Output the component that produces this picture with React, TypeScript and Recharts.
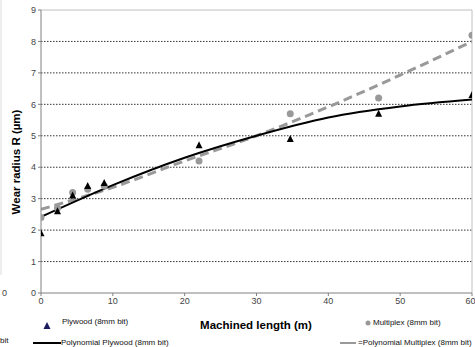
import React from 'react';
import { ComposedChart, Line, Scatter, XAxis, YAxis, CartesianGrid, ReferenceLine } from 'recharts';

// measured points (machined length m, wear radius µm)
const plywoodX = [0, 2.3, 4.4, 6.5, 8.8, 22, 34.7, 47, 60];
const plywoodY = [1.9, 2.6, 3.1, 3.4, 3.5, 4.7, 4.9, 5.7, 6.3];
const multiplexX = [0, 2.3, 4.4, 6.5, 8.8, 22, 34.7, 47, 60];
const multiplexY = [2.4, 2.7, 3.2, 3.3, 3.4, 4.2, 5.7, 6.2, 8.2];

// trendlines
const trendX = [0, 10, 20, 30, 40, 50, 60];
const plywoodTrend = [2.42, 3.43, 4.3, 5.0, 5.58, 5.93, 6.15];
const multiplexTrend = [2.66, 3.36, 4.2, 5.0, 5.92, 6.93, 8.0];

const xTicks = [0, 10, 20, 30, 40, 50, 60];
const yTicks = [0, 1, 2, 3, 4, 5, 6, 7, 8, 9];
const gridValues = [1, 2, 3, 4, 5, 6, 7, 8];

const plywoodPts = plywoodX.map((x, i) => ({ x, y: plywoodY[i] }));
const multiplexPts = multiplexX.map((x, i) => ({ x, y: multiplexY[i] }));
const trendData = trendX.map((x, i) => ({ x, ply: plywoodTrend[i], multi: multiplexTrend[i] }));

const FONT = '"Liberation Sans", Arial, sans-serif';
const tick = { fill: '#444', fontSize: 9, fontFamily: FONT };

const Triangle = (props: any) => {
  const { cx, cy } = props;
  if (cx == null || cy == null) return null;
  return <polygon points={`${cx},${cy - 4} ${cx - 3.5},${cy + 3} ${cx + 3.5},${cy + 3}`} fill="#000" />;
};

const Dot = (props: any) => {
  const { cx, cy } = props;
  if (cx == null || cy == null) return null;
  return <circle cx={cx} cy={cy} r={3.5} fill="#999" />;
};

const txt: React.CSSProperties = { position: 'absolute', fontFamily: FONT, fontSize: 8, color: '#111', whiteSpace: 'nowrap', lineHeight: '10px' };

export default function App() {
  return (
    <div style={{ position: 'absolute', left: 0, top: 0, width: 475, height: 347, background: '#fff', overflow: 'hidden' }}>
      <ComposedChart width={475} height={347} margin={{ top: 10, right: 3, left: 0, bottom: 34 }}>
        <CartesianGrid horizontal vertical={false} horizontalValues={gridValues} stroke="#333" strokeDasharray="1.5 1.5" />
        <XAxis
          type="number"
          dataKey="x"
          domain={[0, 60]}
          ticks={xTicks}
          height={20}
          tick={tick}
          tickSize={3}
          stroke="#808080"
          allowDataOverflow
        />
        <YAxis
          type="number"
          domain={[0, 9]}
          ticks={yTicks}
          width={41}
          tick={tick}
          tickSize={3}
          stroke="#808080"
          allowDataOverflow
        />
        <ReferenceLine y={9} stroke="#c0c0c0" />
        <ReferenceLine x={60} stroke="#c0c0c0" />
        <Line data={trendData} dataKey="multi" type="monotone" stroke="#999" strokeWidth={3} strokeDasharray="9 5" dot={false} isAnimationActive={false} />
        <Line data={trendData} dataKey="ply" type="monotone" stroke="#000" strokeWidth={2} dot={false} isAnimationActive={false} />
        <Scatter data={multiplexPts} dataKey="y" shape={<Dot />} isAnimationActive={false} />
        <Scatter data={plywoodPts} dataKey="y" shape={<Triangle />} isAnimationActive={false} />
      </ComposedChart>

      {/* axis titles */}
      <div style={{ ...txt, fontSize: 11.5, fontWeight: 'bold', color: '#000', left: 256, top: 318, transform: 'translateX(-50%)', lineHeight: '14px' }}>
        Machined length (m)
      </div>
      <div style={{ ...txt, fontSize: 11.5, fontWeight: 'bold', color: '#000', left: 16, top: 162, transform: 'translate(-50%, -50%) rotate(-90deg)', lineHeight: '14px' }}>
        Wear radius R (µm)
      </div>

      {/* legend */}
      <svg style={{ position: 'absolute', left: 0, top: 0 }} width={475} height={347}>
        <polygon points="47,322 43.5,329 50.5,329" fill="#1a1a5e" />
        <circle cx={368} cy={323} r={2.5} fill="#999" />
        <line x1={33} y1={343} x2={61} y2={343} stroke="#000" strokeWidth={2} />
        <line x1={340} y1={343} x2={356} y2={343} stroke="#999" strokeWidth={2} />
        <line x1={1} y1={0} x2={1} y2={275} stroke="#ddd" strokeWidth={1} />
      </svg>
      <div style={{ ...txt, left: 62, top: 317 }}>Plywood (8mm bit)</div>
      <div style={{ ...txt, left: 373, top: 318 }}>Multiplex (8mm bit)</div>
      <div style={{ ...txt, left: 61, top: 338 }}>Polynomial Plywood (8mm bit)</div>
      <div style={{ ...txt, left: 358, top: 338 }}>=Polynomial Multiplex (8mm bit)</div>

      {/* fragments of the neighbouring chart */}
      <div style={{ ...txt, fontSize: 9, color: '#444', left: 2, top: 288 }}>0</div>
      <div style={{ ...txt, left: 0, top: 336 }}>bit</div>
    </div>
  );
}
